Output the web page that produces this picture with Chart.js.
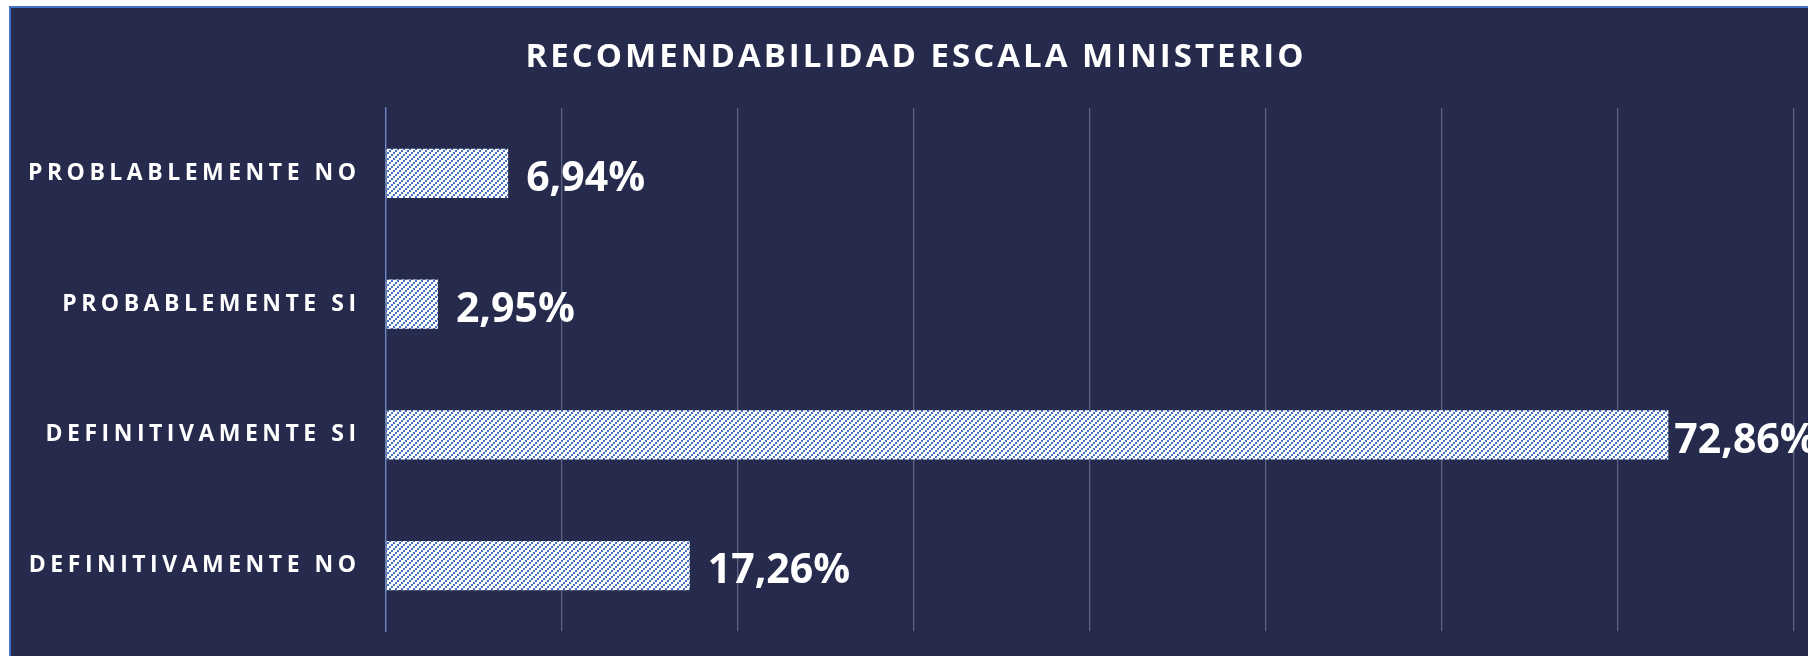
<!DOCTYPE html>
<html>
<head>
<meta charset="utf-8">
<script src="https://cdn.jsdelivr.net/npm/chart.js@4/dist/chart.umd.min.js"></script>
<style>
  html, body { margin: 0; padding: 0; background: #ffffff; overflow: hidden; }
  #box {
    position: absolute; left: 9px; top: 6px; width: 1799px; height: 650px;
    box-sizing: border-box; border-left: 2px solid #4472c4; border-top: 2px solid #4472c4;
    background: #262a4c;
  }
</style>
</head>
<body>
<div id="box"><canvas id="my-chart" width="1797" height="648"></canvas></div>
<script>
const chartTitle = 'RECOMENDABILIDAD ESCALA MINISTERIO'
const categories = ['PROBLABLEMENTE NO', 'PROBABLEMENTE SI', 'DEFINITIVAMENTE SI', 'DEFINITIVAMENTE NO']
const percentValues = [6.94, 2.95, 72.86, 17.26]
const axisMin = 0
const axisMax = 80
const axisStep = 10

const ctx = document.getElementById('my-chart').getContext('2d')

// excel-like "wide upward diagonal" fill
const makeHatch = () => {
  const tile = document.createElement('canvas')
  tile.width = 6
  tile.height = 6
  const t = tile.getContext('2d')
  t.fillStyle = '#ffffff'
  t.fillRect(0, 0, 6, 6)
  t.fillStyle = '#4472c4'
  t.fillRect(0, 4, 2, 2)
  t.fillRect(2, 2, 2, 2)
  t.fillRect(4, 0, 2, 2)
  return ctx.createPattern(tile, 'repeat')
}

const fmt = v => v.toFixed(2).replace('.', ',') + '%'

const spacingPlugin = {
  id: 'spacing',
  beforeDraw(chart) { chart.ctx.letterSpacing = '3px' },
  beforeDatasetsDraw(chart) { chart.ctx.letterSpacing = '0px' }
}

const labelsPlugin = {
  id: 'sideLabels',
  afterDatasetsDraw(chart) {
    const c = chart.ctx
    const yScale = chart.scales.y
    // category labels, spaced out like the original
    const sp = 4.5
    c.save()
    c.letterSpacing = sp + 'px'
    c.font = 'bold 23px "Open Sans"'
    c.fillStyle = '#ffffff'
    c.textAlign = 'right'
    c.textBaseline = 'middle'
    categories.forEach((cat, i) => {
      c.fillText(cat, yScale.right - 30 + sp, yScale.getPixelForTick(i))
    })
    c.restore()

    // value labels
    c.save()
    c.letterSpacing = '0px'
    c.font = 'bold 41px "Open Sans"'
    c.fillStyle = '#ffffff'
    c.textAlign = 'left'
    c.textBaseline = 'middle'
    chart.getDatasetMeta(0).data.forEach((bar, i) => {
      const txt = fmt(percentValues[i])
      const w = c.measureText(txt).width
      const gap = bar.x + 18 + w > chart.width ? 6 : 18
      c.fillText(txt, bar.x + gap, bar.y + 6)
    })
    c.restore()
  }
}

const chart = new Chart(ctx, {
  type: 'bar',
  data: {
    labels: categories,
    datasets: [
      {
        label: 'Recomendabilidad',
        data: percentValues,
        backgroundColor: makeHatch(),
        borderWidth: 0,
        barPercentage: 0.375,
        categoryPercentage: 1
      }
    ]
  },
  options: {
    indexAxis: 'y',
    responsive: false,
    animation: false,
    events: [],
    layout: { padding: { left: 27, right: 14, top: 0, bottom: 25 } },
    plugins: {
      legend: { display: false },
      tooltip: { enabled: false },
      title: {
        display: true,
        text: chartTitle,
        color: '#ffffff',
        font: { family: '"Open Sans"', size: 33, weight: 'bold', lineHeight: 1.2 },
        padding: { top: 30, bottom: 30.4 }
      }
    },
    scales: {
      x: {
        min: axisMin,
        max: axisMax,
        ticks: { display: false, stepSize: axisStep },
        grid: { color: '#5d6281', lineWidth: 1.3, drawTicks: false },
        border: { display: false }
      },
      y: {
        ticks: { display: false },
        grid: { display: false, drawTicks: false },
        border: { display: true, color: '#6a86c4', width: 1.3 },
        afterFit(scale) { scale.width = 348 }
      }
    }
  },
  plugins: [spacingPlugin, labelsPlugin]
})
</script>
</body>
</html>
